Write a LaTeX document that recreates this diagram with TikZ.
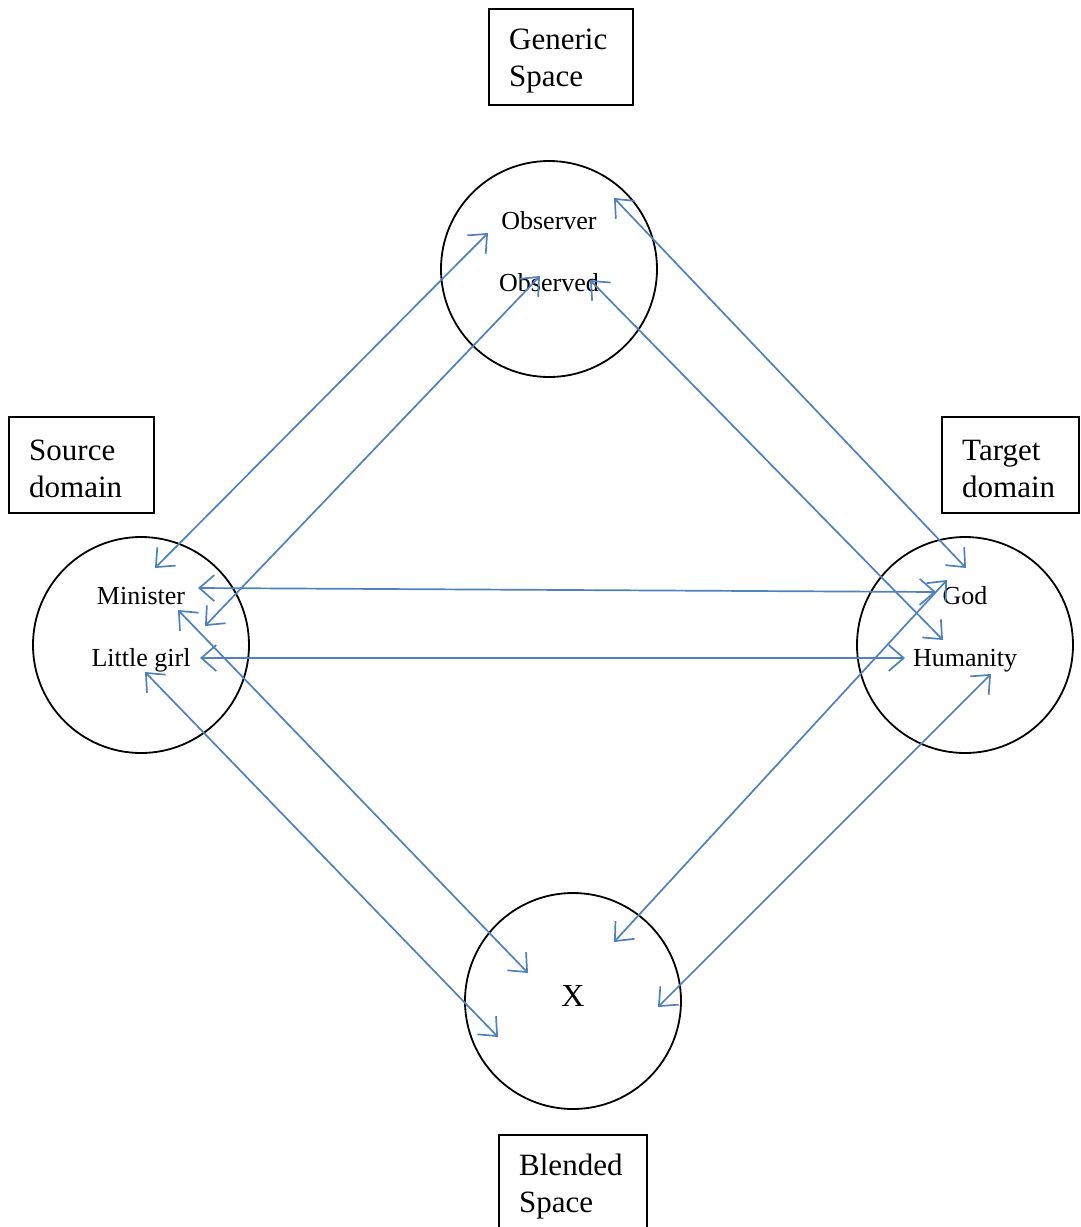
\documentclass[tikz,border=0pt]{standalone}
\usepackage{fontspec}
\setmainfont{Liberation Serif}
\usetikzlibrary{arrows.meta}
\definecolor{linkblue}{HTML}{4F81BD}
\begin{document}
\begin{tikzpicture}[x=1pt,y=-1pt,
  space/.style={draw=black,line width=1.8pt,circle,minimum size=216pt,inner sep=0pt},
  framebox/.style={draw=black,line width=1.4pt,minimum height=96pt,inner sep=0pt},
  boxtext/.style={align=left,anchor=west,inner sep=0pt,font=\fontsize{31}{37}\selectfont},
  lbl/.style={inner sep=0pt,anchor=base,font=\fontsize{26}{30}\selectfont},
  link/.style={draw=linkblue,line width=1.7pt,{Straight Barb[length=15pt,width=26pt,line width=1.7pt]}-{Straight Barb[length=15pt,width=26pt,line width=1.7pt]}}
]
\useasboundingbox[fill=white] (0,0) rectangle (1081,1227);

% boxes
\node[framebox,minimum width=144pt] (genbox) at (561,57) {};
\node[boxtext] (gentext) at (509,61) {Generic\\Space};
\node[framebox,minimum width=145pt] (srcbox) at (81.5,465) {};
\node[boxtext] (srctext) at (29,469) {Source\\domain};
\node[framebox,minimum width=137pt] (tgtbox) at (1010.5,465) {};
\node[boxtext] (tgttext) at (962,469) {Target\\domain};
\node[framebox,minimum width=148pt] (blbox) at (573,1183) {};
\node[boxtext] (bltext) at (519,1187) {Blended\\Space};

% circles
\node[space] (gen) at (549,269) {};
\node[space] (src) at (141,645) {};
\node[space] (tgt) at (965,645) {};
\node[space] (bl) at (573,1001) {};

% labels
\node[lbl] (observer) at (549,229) {Observer};
\node[lbl] (observed) at (549,291) {Observed};
\node[lbl] (minister) at (141,604) {Minister};
\node[lbl] (girl) at (141,666) {Little girl};
\node[lbl] (god) at (965,604) {God};
\node[lbl] (humanity) at (965,666) {Humanity};
\node[inner sep=0pt,anchor=base,font=\fontsize{32}{36}\selectfont] (x) at (573,1006) {X};

% link end points
\coordinate (a1) at (155,568); \coordinate (b1) at (488,233);
\coordinate (a2) at (205,626); \coordinate (b2) at (540,276);
\coordinate (a3) at (614,198); \coordinate (b3) at (966,568);
\coordinate (a4) at (590,280); \coordinate (b4) at (943,640);
\coordinate (a5) at (198,588); \coordinate (b5) at (936,592);
\coordinate (a6) at (200,658); \coordinate (b6) at (905,658);
\coordinate (a7) at (178,610); \coordinate (b7) at (528,973);
\coordinate (a8) at (145,672); \coordinate (b8) at (498,1037);
\coordinate (a9) at (947,580); \coordinate (b9) at (614,942);
\coordinate (a10) at (991,674); \coordinate (b10) at (658,1007);

\foreach \i in {1,...,10} { \draw[link] (a\i) -- (b\i); }
\end{tikzpicture}
\end{document}
